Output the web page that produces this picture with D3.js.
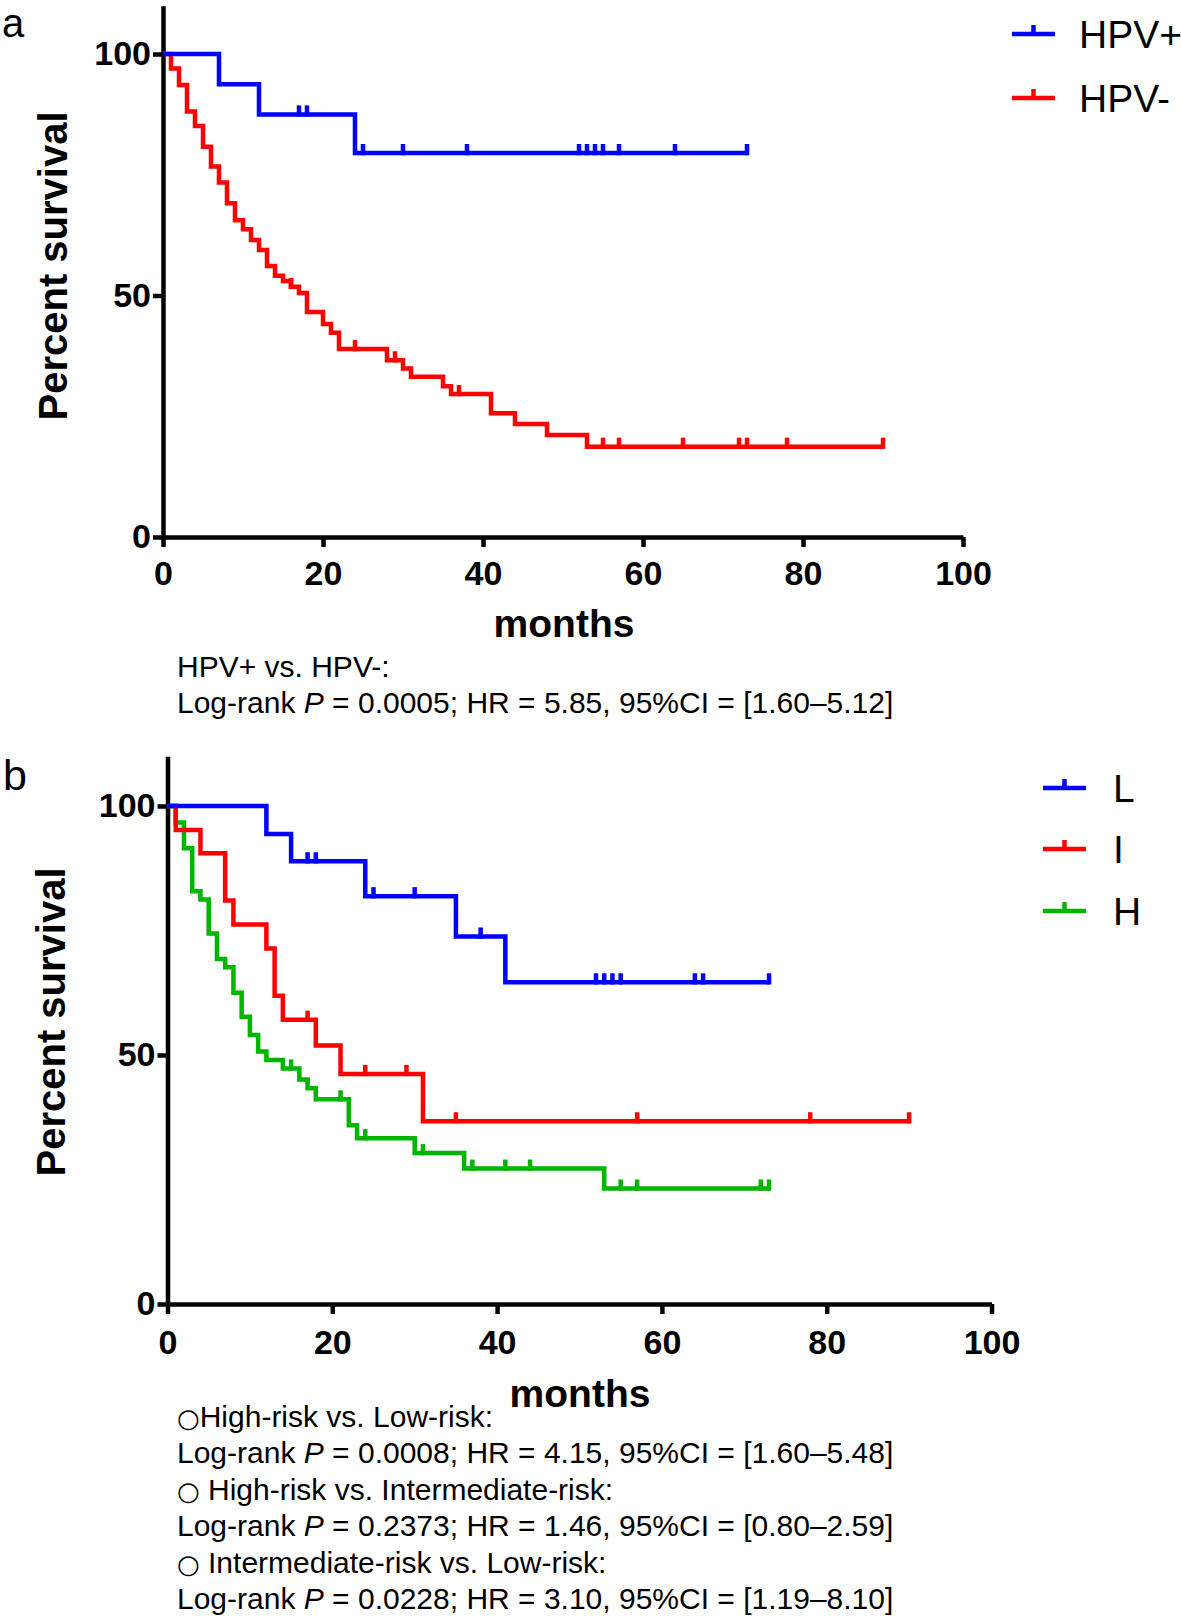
<!DOCTYPE html>
<html>
<head>
<meta charset="utf-8">
<script src="https://cdn.jsdelivr.net/npm/d3@7"></script>
<style>
  body { margin: 0; background: #fff; }
  text { font-family: Arial, "Liberation Sans", sans-serif; }
</style>
</head>
<body>
<svg id="chart" width="1181" height="1619"></svg>
<script>
// ---- panel a : HPV status ----
const hpvPosTimes = [0, 7, 12, 24];
const hpvPosSurv = [100, 93.75, 87.5, 79.5];
const hpvPosCensor = [17, 18, 25, 30, 38, 52, 53, 54, 55, 57, 64, 73];
const hpvPosEnd = 73;

const hpvNegTimes = [0, 1, 2, 3, 4, 5, 6, 7, 8, 9, 10, 11, 12, 13, 14, 15, 16, 17, 18, 20, 21, 22, 28, 30, 31, 35, 36, 41, 44, 48, 53];
const hpvNegSurv = [100, 97.0, 93.6, 88.1, 85.1, 80.8, 76.7, 73.4, 69.1, 65.6, 63.7, 61.5, 59.4, 56.1, 54.1, 53.0, 51.8, 50.5, 46.6, 44.1, 42.3, 38.9, 36.6, 34.9, 33.2, 31.2, 29.6, 25.6, 23.4, 21.1, 18.7];
const hpvNegCensor = [16, 24, 29, 37, 55, 57, 65, 72, 73, 78, 90];
const hpvNegEnd = 90;

// ---- panel b : risk groups ----
const lowTimes = [0, 12, 15, 24, 35, 41];
const lowSurv = [100, 94.4, 88.9, 81.9, 73.8, 64.6];
const lowCensor = [17, 18, 25, 30, 38, 52, 53, 54, 55, 64, 65, 73];
const lowEnd = 73;

const midTimes = [0, 1, 4, 7, 8, 12, 13, 14, 18, 21, 31];
const midSurv = [100, 95.2, 90.5, 81.0, 76.2, 71.4, 61.9, 57.1, 51.9, 46.2, 36.7];
const midCensor = [17, 24, 29, 35, 57, 78, 90];
const midEnd = 90;

const highTimes = [0, 1, 2, 3, 4, 5, 6, 7, 8, 9, 10, 11, 12, 14, 16, 17, 18, 22, 23, 30, 36, 53];
const highSurv = [100, 96.7, 91.5, 82.9, 81.2, 74.4, 69.3, 67.6, 62.5, 57.7, 54.0, 50.7, 49.0, 47.3, 45.1, 43.3, 41.1, 35.9, 33.3, 30.3, 27.2, 23.2];
const highCensor = [15, 21, 24, 31, 37, 41, 44, 55, 57, 72, 73];
const highEnd = 73;

const xTicks = [0, 20, 40, 60, 80, 100];
const yTicks = [0, 50, 100];

const BLUE = "#0000ff", RED = "#ff0000", GREEN = "#00b400";
const LW = 4.5;

const svg = d3.select("#chart");
svg.append("rect").attr("width", 1181).attr("height", 1619).attr("fill", "#fff");

function survAt(times, surv, t) {
  let v = surv[0];
  for (let i = 0; i < times.length; i++) if (times[i] <= t) v = surv[i];
  return v;
}

function drawCurve(g, x, y, times, surv, censor, end, colour) {
  const pts = times.map((t, i) => [t, surv[i]]);
  pts.push([end, surv[surv.length - 1]]);
  const line = d3.line().x(d => x(d[0])).y(d => y(d[1])).curve(d3.curveStepAfter);
  g.append("path")
    .attr("d", line(pts))
    .attr("fill", "none")
    .attr("stroke", colour)
    .attr("stroke-width", LW)
    .attr("stroke-linejoin", "miter");
  g.selectAll(null)
    .data(censor)
    .enter()
    .append("line")
    .attr("x1", d => x(d)).attr("x2", d => x(d))
    .attr("y1", d => y(survAt(times, surv, d)) + LW / 2)
    .attr("y2", d => y(survAt(times, surv, d)) - 9)
    .attr("stroke", colour)
    .attr("stroke-width", LW);
}

function drawAxes(g, x, y, labelPad) {
  const gx = g.append("g")
    .attr("transform", "translate(0," + y(0) + ")")
    .call(d3.axisBottom(x).tickValues(xTicks).tickSize(10).tickSizeOuter(0).tickPadding(labelPad));
  const gy = g.append("g")
    .attr("transform", "translate(" + x(0) + ",0)")
    .call(d3.axisLeft(y).tickValues(yTicks).tickSize(10).tickSizeOuter(0).tickPadding(2));
  [gx, gy].forEach(a => {
    a.select(".domain").attr("stroke", "#000").attr("stroke-width", LW);
    a.selectAll(".tick line").attr("stroke", "#000").attr("stroke-width", LW);
    a.selectAll(".tick text")
      .attr("fill", "#000")
      .style("font-family", 'Arial, "Liberation Sans", sans-serif')
      .style("font-size", "34px")
      .style("font-weight", "bold");
  });
}

function legendItem(x0, y0, colour, label, textX) {
  svg.append("line").attr("x1", x0).attr("x2", x0 + 43).attr("y1", y0).attr("y2", y0)
    .attr("stroke", colour).attr("stroke-width", LW);
  svg.append("line").attr("x1", x0 + 21.5).attr("x2", x0 + 21.5).attr("y1", y0).attr("y2", y0 - 9)
    .attr("stroke", colour).attr("stroke-width", LW);
  svg.append("text").attr("x", textX).attr("y", y0 + 14)
    .style("font-size", "39px").text(label);
}

function boldText(x, y, str, size, rotate) {
  const t = svg.append("text")
    .attr("text-anchor", "middle")
    .style("font-size", size + "px")
    .style("font-weight", "bold")
    .text(str);
  if (rotate) t.attr("transform", "translate(" + x + "," + y + ") rotate(-90)");
  else t.attr("x", x).attr("y", y);
}

// ================= panel a =================
const xA = d3.scaleLinear().domain([0, 100]).range([163, 963]);
const yA = d3.scaleLinear().domain([0, 110]).range([537, 5.7]);
const gA = svg.append("g");
drawAxes(gA, xA, yA, 14);
drawCurve(gA, xA, yA, hpvNegTimes, hpvNegSurv, hpvNegCensor, hpvNegEnd, RED);
drawCurve(gA, xA, yA, hpvPosTimes, hpvPosSurv, hpvPosCensor, hpvPosEnd, BLUE);

svg.append("text").attr("x", 2).attr("y", 37).style("font-size", "40px").text("a");
boldText(564, 637, "months", 39, false);
boldText(67, 266, "Percent survival", 40, true);
legendItem(1012, 34, BLUE, "HPV+", 1079);
legendItem(1012, 98, RED, "HPV-", 1079);

const statA = svg.append("g").style("font-size", "30px");
statA.append("text").attr("x", 177).attr("y", 677).text("HPV+ vs. HPV-:");
const sa = statA.append("text").attr("x", 177).attr("y", 713);
sa.append("tspan").text("Log-rank ");
sa.append("tspan").style("font-style", "italic").text("P");
sa.append("tspan").text(" = 0.0005; HR = 5.85, 95%CI = [1.60\u20135.12]");

// ================= panel b =================
const xB = d3.scaleLinear().domain([0, 100]).range([167.5, 991.5]);
const yB = d3.scaleLinear().domain([0, 110]).range([1304, 756.2]);
const gB = svg.append("g");
drawAxes(gB, xB, yB, 16);
drawCurve(gB, xB, yB, highTimes, highSurv, highCensor, highEnd, GREEN);
drawCurve(gB, xB, yB, midTimes, midSurv, midCensor, midEnd, RED);
drawCurve(gB, xB, yB, lowTimes, lowSurv, lowCensor, lowEnd, BLUE);

svg.append("text").attr("x", 3).attr("y", 790).style("font-size", "43px").text("b");
boldText(580, 1407, "months", 39, false);
boldText(65, 1022, "Percent survival", 40, true);
legendItem(1043, 788, BLUE, "L", 1113);
legendItem(1043, 849, RED, "I", 1113);
legendItem(1043, 911, GREEN, "H", 1113);

const statLines = [
  ["\u25CB", "High-risk vs. Low-risk:"],
  ["", "Log-rank ", "P", " = 0.0008; HR = 4.15, 95%CI = [1.60\u20135.48]"],
  ["\u25CB", " High-risk vs. Intermediate-risk:"],
  ["", "Log-rank ", "P", " = 0.2373; HR = 1.46, 95%CI = [0.80\u20132.59]"],
  ["\u25CB", " Intermediate-risk vs. Low-risk:"],
  ["", "Log-rank ", "P", " = 0.0228; HR = 3.10, 95%CI = [1.19\u20138.10]"]
];
const statB = svg.append("g").style("font-size", "30px");
statLines.forEach((ln, i) => {
  const t = statB.append("text").attr("x", 177).attr("y", 1427 + i * 36.4);
  if (ln[0]) t.append("tspan")
    .style("font-family", '"DejaVu Sans", sans-serif')
    .style("font-size", "26px")
    .text(ln[0]);
  if (ln.length === 2) t.append("tspan").text(ln[1]);
  else {
    t.append("tspan").text(ln[1]);
    t.append("tspan").style("font-style", "italic").text(ln[2]);
    t.append("tspan").text(ln[3]);
  }
});
</script>
</body>
</html>
